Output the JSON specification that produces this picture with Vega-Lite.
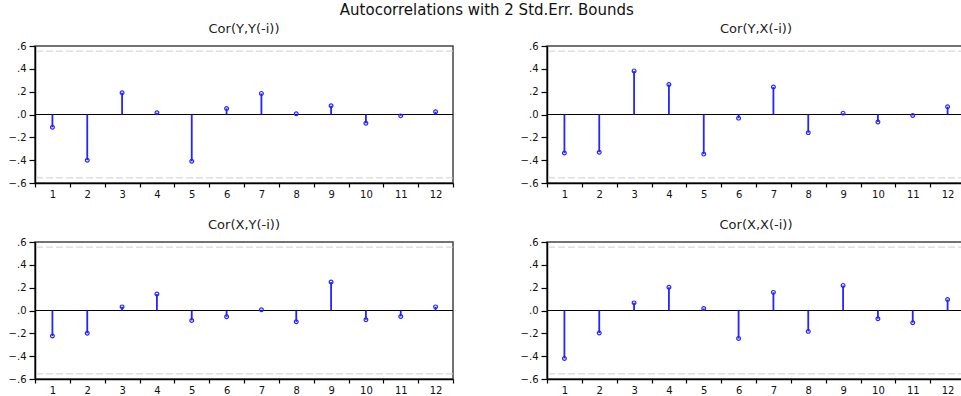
{
  "$schema": "https://vega.github.io/schema/vega-lite/v6.json",
  "padding": {"left": 7, "top": 3, "right": 0, "bottom": 0},
  "background": "white",
  "title": {"text": "Autocorrelations with 2 Std.Err. Bounds", "font": "DejaVu Sans", "fontSize": 15, "fontWeight": "normal", "anchor": "middle", "color": "#111", "offset": 4},
  "datasets": {
    "acf": [
      {"panel": "Cor(Y,Y(-i))", "lag": 1, "r": -0.112},
      {"panel": "Cor(Y,Y(-i))", "lag": 2, "r": -0.4},
      {"panel": "Cor(Y,Y(-i))", "lag": 3, "r": 0.19},
      {"panel": "Cor(Y,Y(-i))", "lag": 4, "r": 0.015},
      {"panel": "Cor(Y,Y(-i))", "lag": 5, "r": -0.41},
      {"panel": "Cor(Y,Y(-i))", "lag": 6, "r": 0.053},
      {"panel": "Cor(Y,Y(-i))", "lag": 7, "r": 0.185},
      {"panel": "Cor(Y,Y(-i))", "lag": 8, "r": 0.006},
      {"panel": "Cor(Y,Y(-i))", "lag": 9, "r": 0.076},
      {"panel": "Cor(Y,Y(-i))", "lag": 10, "r": -0.076},
      {"panel": "Cor(Y,Y(-i))", "lag": 11, "r": -0.012},
      {"panel": "Cor(Y,Y(-i))", "lag": 12, "r": 0.024},
      {"panel": "Cor(Y,X(-i))", "lag": 1, "r": -0.338},
      {"panel": "Cor(Y,X(-i))", "lag": 2, "r": -0.33},
      {"panel": "Cor(Y,X(-i))", "lag": 3, "r": 0.382},
      {"panel": "Cor(Y,X(-i))", "lag": 4, "r": 0.262},
      {"panel": "Cor(Y,X(-i))", "lag": 5, "r": -0.347},
      {"panel": "Cor(Y,X(-i))", "lag": 6, "r": -0.032},
      {"panel": "Cor(Y,X(-i))", "lag": 7, "r": 0.241},
      {"panel": "Cor(Y,X(-i))", "lag": 8, "r": -0.159},
      {"panel": "Cor(Y,X(-i))", "lag": 9, "r": 0.012},
      {"panel": "Cor(Y,X(-i))", "lag": 10, "r": -0.065},
      {"panel": "Cor(Y,X(-i))", "lag": 11, "r": -0.009},
      {"panel": "Cor(Y,X(-i))", "lag": 12, "r": 0.068},
      {"panel": "Cor(X,Y(-i))", "lag": 1, "r": -0.223},
      {"panel": "Cor(X,Y(-i))", "lag": 2, "r": -0.2},
      {"panel": "Cor(X,Y(-i))", "lag": 3, "r": 0.032},
      {"panel": "Cor(X,Y(-i))", "lag": 4, "r": 0.145},
      {"panel": "Cor(X,Y(-i))", "lag": 5, "r": -0.087},
      {"panel": "Cor(X,Y(-i))", "lag": 6, "r": -0.055},
      {"panel": "Cor(X,Y(-i))", "lag": 7, "r": 0.006},
      {"panel": "Cor(X,Y(-i))", "lag": 8, "r": -0.099},
      {"panel": "Cor(X,Y(-i))", "lag": 9, "r": 0.249},
      {"panel": "Cor(X,Y(-i))", "lag": 10, "r": -0.081},
      {"panel": "Cor(X,Y(-i))", "lag": 11, "r": -0.052},
      {"panel": "Cor(X,Y(-i))", "lag": 12, "r": 0.032},
      {"panel": "Cor(X,X(-i))", "lag": 1, "r": -0.42},
      {"panel": "Cor(X,X(-i))", "lag": 2, "r": -0.197},
      {"panel": "Cor(X,X(-i))", "lag": 3, "r": 0.067},
      {"panel": "Cor(X,X(-i))", "lag": 4, "r": 0.203},
      {"panel": "Cor(X,X(-i))", "lag": 5, "r": 0.017},
      {"panel": "Cor(X,X(-i))", "lag": 6, "r": -0.246},
      {"panel": "Cor(X,X(-i))", "lag": 7, "r": 0.159},
      {"panel": "Cor(X,X(-i))", "lag": 8, "r": -0.183},
      {"panel": "Cor(X,X(-i))", "lag": 9, "r": 0.22},
      {"panel": "Cor(X,X(-i))", "lag": 10, "r": -0.072},
      {"panel": "Cor(X,X(-i))", "lag": 11, "r": -0.107},
      {"panel": "Cor(X,X(-i))", "lag": 12, "r": 0.096}
    ],
    "refs": [
      {"kind": "bound", "v": 0.555},
      {"kind": "bound", "v": -0.555},
      {"kind": "zero", "v": 0}
    ]
  },
  "data": {"name": "acf"},
  "columns": 2,
  "spacing": {"row": 59, "column": 94},
  "bounds": "flush",
  "concat": [
    {
      "title": "Cor(Y,Y(-i))",
      "width": 418, "height": 137,
      "layer": [
        {"data": {"name": "refs"}, "transform": [{"filter": "datum.kind === 'bound'"}], "mark": {"type": "rule", "color": "#cfcfcf", "strokeWidth": 1, "strokeDash": [7, 3]}, "encoding": {"y": {"field": "v", "type": "quantitative", "scale": {"domain": [-0.6, 0.6], "nice": false}, "axis": {"title": null}}}},
        {"data": {"name": "refs"}, "transform": [{"filter": "datum.kind === 'zero'"}], "mark": {"type": "rule", "color": "#000", "strokeWidth": 1}, "encoding": {"y": {"field": "v", "type": "quantitative", "scale": {"domain": [-0.6, 0.6], "nice": false}, "axis": {"title": null}}}},
        {"transform": [{"filter": "datum.panel === 'Cor(Y,Y(-i))'"}], "mark": {"type": "rule", "color": "#2424ff", "strokeWidth": 1.8}, "encoding": {"x": {"field": "lag", "type": "ordinal", "scale": {"paddingInner": 0, "paddingOuter": 0}, "axis": {"title": null}}, "y": {"field": "r", "type": "quantitative", "scale": {"domain": [-0.6, 0.6], "nice": false}, "axis": {"title": null}}, "y2": {"datum": 0}}},
        {"transform": [{"filter": "datum.panel === 'Cor(Y,Y(-i))'"}], "mark": {"type": "point", "shape": "circle", "filled": false, "color": "#2424ff", "size": 14, "strokeWidth": 1.2, "opacity": 1}, "encoding": {"x": {"field": "lag", "type": "ordinal"}, "y": {"field": "r", "type": "quantitative"}}}
      ]
    },
    {
      "title": "Cor(Y,X(-i))",
      "width": 418, "height": 137,
      "layer": [
        {"data": {"name": "refs"}, "transform": [{"filter": "datum.kind === 'bound'"}], "mark": {"type": "rule", "color": "#cfcfcf", "strokeWidth": 1, "strokeDash": [7, 3]}, "encoding": {"y": {"field": "v", "type": "quantitative", "scale": {"domain": [-0.6, 0.6], "nice": false}, "axis": {"title": null}}}},
        {"data": {"name": "refs"}, "transform": [{"filter": "datum.kind === 'zero'"}], "mark": {"type": "rule", "color": "#000", "strokeWidth": 1}, "encoding": {"y": {"field": "v", "type": "quantitative", "scale": {"domain": [-0.6, 0.6], "nice": false}, "axis": {"title": null}}}},
        {"transform": [{"filter": "datum.panel === 'Cor(Y,X(-i))'"}], "mark": {"type": "rule", "color": "#2424ff", "strokeWidth": 1.8}, "encoding": {"x": {"field": "lag", "type": "ordinal", "scale": {"paddingInner": 0, "paddingOuter": 0}, "axis": {"title": null}}, "y": {"field": "r", "type": "quantitative", "scale": {"domain": [-0.6, 0.6], "nice": false}, "axis": {"title": null}}, "y2": {"datum": 0}}},
        {"transform": [{"filter": "datum.panel === 'Cor(Y,X(-i))'"}], "mark": {"type": "point", "shape": "circle", "filled": false, "color": "#2424ff", "size": 14, "strokeWidth": 1.2, "opacity": 1}, "encoding": {"x": {"field": "lag", "type": "ordinal"}, "y": {"field": "r", "type": "quantitative"}}}
      ]
    },
    {
      "title": "Cor(X,Y(-i))",
      "width": 418, "height": 137,
      "layer": [
        {"data": {"name": "refs"}, "transform": [{"filter": "datum.kind === 'bound'"}], "mark": {"type": "rule", "color": "#cfcfcf", "strokeWidth": 1, "strokeDash": [7, 3]}, "encoding": {"y": {"field": "v", "type": "quantitative", "scale": {"domain": [-0.6, 0.6], "nice": false}, "axis": {"title": null}}}},
        {"data": {"name": "refs"}, "transform": [{"filter": "datum.kind === 'zero'"}], "mark": {"type": "rule", "color": "#000", "strokeWidth": 1}, "encoding": {"y": {"field": "v", "type": "quantitative", "scale": {"domain": [-0.6, 0.6], "nice": false}, "axis": {"title": null}}}},
        {"transform": [{"filter": "datum.panel === 'Cor(X,Y(-i))'"}], "mark": {"type": "rule", "color": "#2424ff", "strokeWidth": 1.8}, "encoding": {"x": {"field": "lag", "type": "ordinal", "scale": {"paddingInner": 0, "paddingOuter": 0}, "axis": {"title": null}}, "y": {"field": "r", "type": "quantitative", "scale": {"domain": [-0.6, 0.6], "nice": false}, "axis": {"title": null}}, "y2": {"datum": 0}}},
        {"transform": [{"filter": "datum.panel === 'Cor(X,Y(-i))'"}], "mark": {"type": "point", "shape": "circle", "filled": false, "color": "#2424ff", "size": 14, "strokeWidth": 1.2, "opacity": 1}, "encoding": {"x": {"field": "lag", "type": "ordinal"}, "y": {"field": "r", "type": "quantitative"}}}
      ]
    },
    {
      "title": "Cor(X,X(-i))",
      "width": 418, "height": 137,
      "layer": [
        {"data": {"name": "refs"}, "transform": [{"filter": "datum.kind === 'bound'"}], "mark": {"type": "rule", "color": "#cfcfcf", "strokeWidth": 1, "strokeDash": [7, 3]}, "encoding": {"y": {"field": "v", "type": "quantitative", "scale": {"domain": [-0.6, 0.6], "nice": false}, "axis": {"title": null}}}},
        {"data": {"name": "refs"}, "transform": [{"filter": "datum.kind === 'zero'"}], "mark": {"type": "rule", "color": "#000", "strokeWidth": 1}, "encoding": {"y": {"field": "v", "type": "quantitative", "scale": {"domain": [-0.6, 0.6], "nice": false}, "axis": {"title": null}}}},
        {"transform": [{"filter": "datum.panel === 'Cor(X,X(-i))'"}], "mark": {"type": "rule", "color": "#2424ff", "strokeWidth": 1.8}, "encoding": {"x": {"field": "lag", "type": "ordinal", "scale": {"paddingInner": 0, "paddingOuter": 0}, "axis": {"title": null}}, "y": {"field": "r", "type": "quantitative", "scale": {"domain": [-0.6, 0.6], "nice": false}, "axis": {"title": null}}, "y2": {"datum": 0}}},
        {"transform": [{"filter": "datum.panel === 'Cor(X,X(-i))'"}], "mark": {"type": "point", "shape": "circle", "filled": false, "color": "#2424ff", "size": 14, "strokeWidth": 1.2, "opacity": 1}, "encoding": {"x": {"field": "lag", "type": "ordinal"}, "y": {"field": "r", "type": "quantitative"}}}
      ]
    }
  ],
  "config": {
    "view": {"stroke": "#444", "strokeWidth": 1.5},
    "title": {"font": "DejaVu Sans", "fontSize": 13, "fontWeight": "normal", "color": "#222", "offset": 5},
    "axis": {"labelFont": "DejaVu Sans", "labelFontSize": 10, "labelColor": "#111", "domainColor": "#000", "domainWidth": 1.5, "tickColor": "#000", "tickWidth": 1.2, "grid": false},
    "axisX": {"labelAngle": 0, "tickBand": "extent", "tickSize": 4, "labelPadding": 2},
    "axisY": {"values": [-0.6, -0.4, -0.2, 0, 0.2, 0.4, 0.6], "tickSize": 6, "labelPadding": 3, "labelFlush": false, "labelExpr": "replace(format(datum.value, '.1f'), '0.', '.')"}
  }
}
